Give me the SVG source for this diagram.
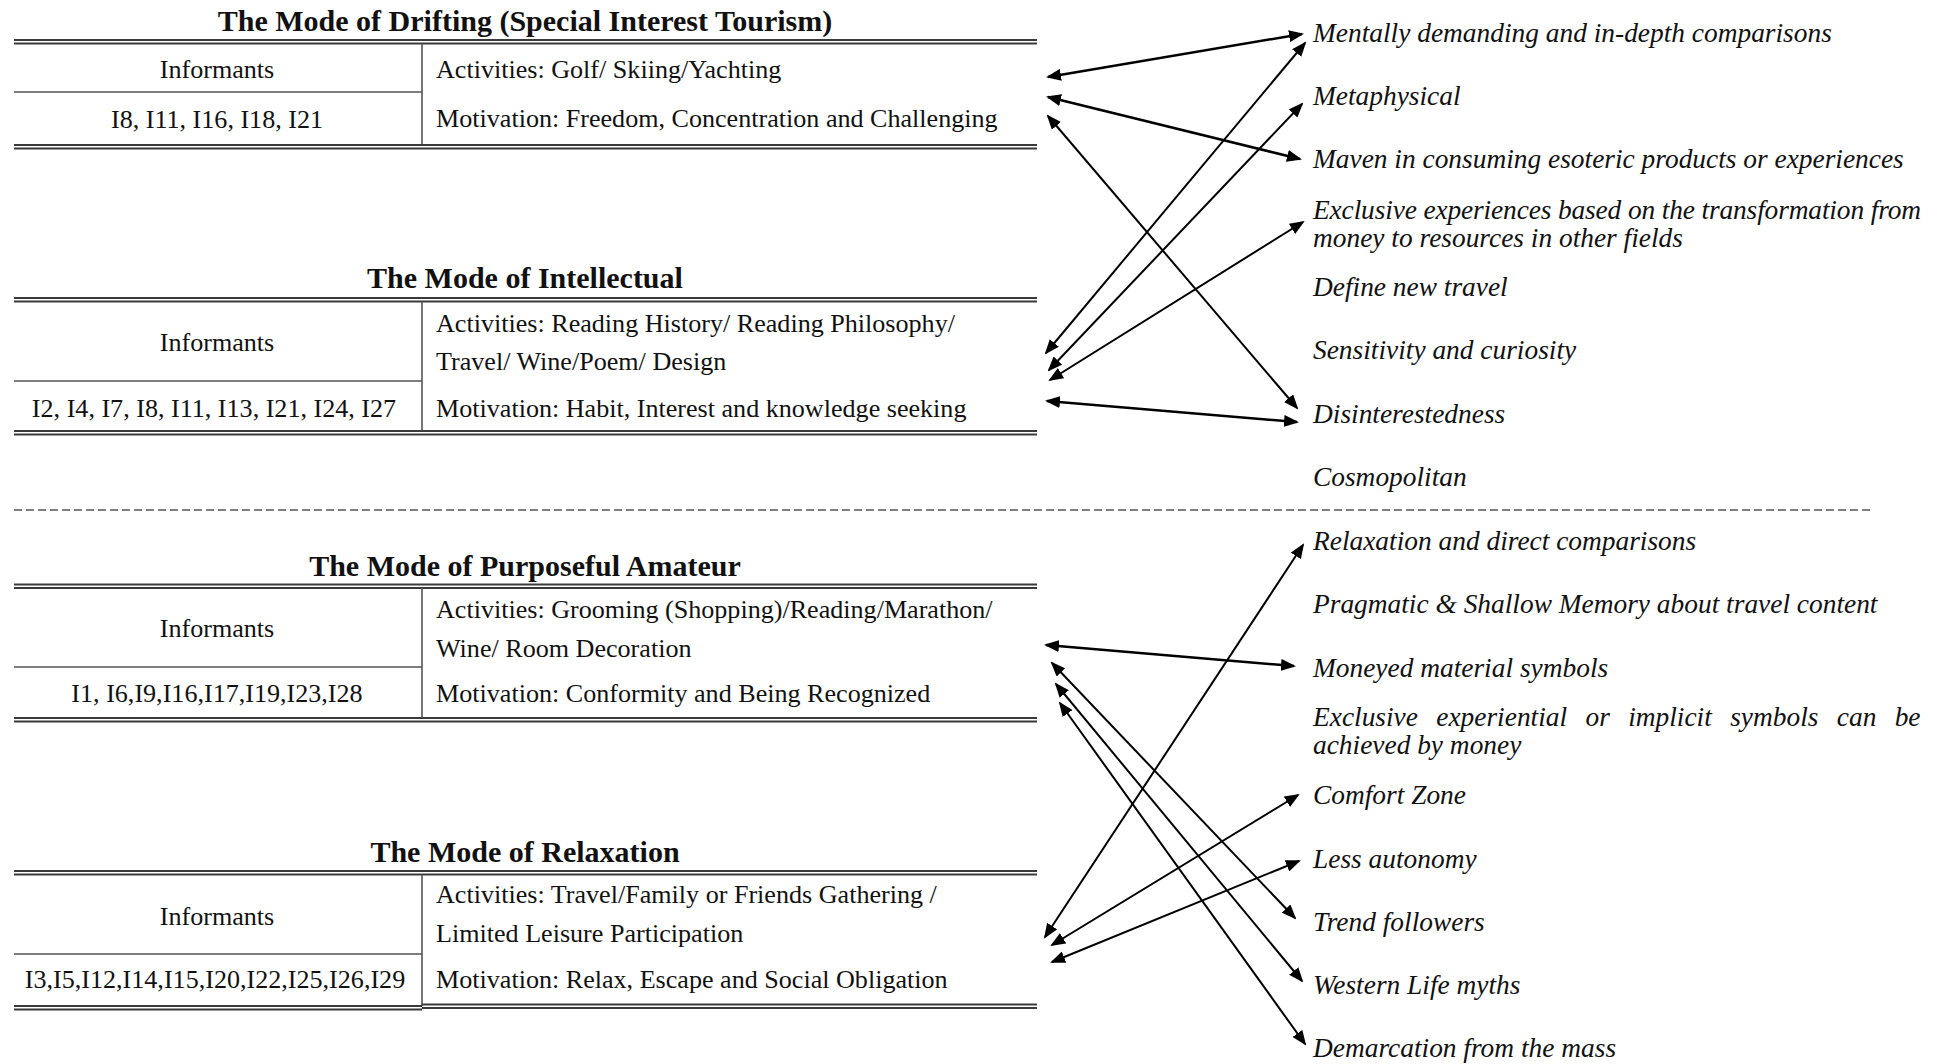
<svg xmlns="http://www.w3.org/2000/svg" width="1946" height="1064" viewBox="0 0 1946 1064">
  <style>
    .title { font-family: "Liberation Serif", "Times New Roman", serif; font-weight: bold; font-size: 30px; fill: #111; text-anchor: middle; }
    .cell { font-family: "Liberation Serif", "Times New Roman", serif; font-size: 26.1px; fill: #111; }
    .mid { text-anchor: middle; }
    .rule { stroke: #3a3a3a; stroke-width: 2; fill: none; }
    .split { stroke: #555; stroke-width: 1.6; fill: none; }
    .trait { font-family: "Liberation Serif", "Times New Roman", serif; font-style: italic; font-size: 27.4px; fill: #111; }
    .link { stroke: #000; stroke-width: 2; fill: none; marker-start: url(#head); marker-end: url(#head); }
    .link.bold { stroke-width: 2.5; }
    .divider { stroke: #555; stroke-width: 1.5; stroke-dasharray: 8 4; fill: none; }
  </style>
  <defs>
    <marker id="head" viewBox="0 0 15 12" refX="13" refY="6" markerWidth="15" markerHeight="12" markerUnits="userSpaceOnUse" orient="auto-start-reverse">
      <path d="M0,0 L15,6 L0,12 Z" fill="#000"/>
    </marker>
  </defs>
  <rect width="1946" height="1064" fill="#fff"/>

  <!-- Mode tables -->
  <g id="mode-drifting">
    <text class="title" x="525" y="31">The Mode of Drifting (Special Interest Tourism)</text>
    <line class="rule" x1="14" y1="40" x2="1037" y2="40"/>
    <line class="rule" x1="14" y1="43.5" x2="1037" y2="43.5"/>
    <line class="split" x1="422" y1="43.5" x2="422" y2="145"/>
    <line class="split" x1="14" y1="92" x2="422" y2="92"/>
    <line class="rule" x1="14" y1="145" x2="1037" y2="145"/>
    <line class="rule" x1="14" y1="148.5" x2="1037" y2="148.5"/>
    <text class="cell mid" x="217" y="78">Informants</text>
    <text class="cell mid" x="217" y="128">I8, I11, I16, I18, I21</text>
    <text class="cell" x="436" y="78">Activities: Golf/ Skiing/Yachting</text>
    <text class="cell" x="436" y="127">Motivation: Freedom, Concentration and Challenging</text>
  </g>

  <g id="mode-intellectual">
    <text class="title" x="525" y="288">The Mode of Intellectual</text>
    <line class="rule" x1="14" y1="298" x2="1037" y2="298"/>
    <line class="rule" x1="14" y1="301.5" x2="1037" y2="301.5"/>
    <line class="split" x1="422" y1="301.5" x2="422" y2="431"/>
    <line class="split" x1="14" y1="381" x2="422" y2="381"/>
    <line class="rule" x1="14" y1="431" x2="1037" y2="431"/>
    <line class="rule" x1="14" y1="434.5" x2="1037" y2="434.5"/>
    <text class="cell mid" x="217" y="351">Informants</text>
    <text class="cell mid" x="214" y="417">I2, I4, I7, I8, I11, I13, I21, I24, I27</text>
    <text class="cell" x="436" y="332">Activities: Reading History/ Reading Philosophy/</text>
    <text class="cell" x="436" y="370">Travel/ Wine/Poem/ Design</text>
    <text class="cell" x="436" y="417">Motivation: Habit, Interest and knowledge seeking</text>
  </g>

  <g id="mode-amateur">
    <text class="title" x="525" y="576">The Mode of Purposeful Amateur</text>
    <line class="rule" x1="14" y1="584.5" x2="1037" y2="584.5"/>
    <line class="rule" x1="14" y1="588" x2="1037" y2="588"/>
    <line class="split" x1="422" y1="588" x2="422" y2="718"/>
    <line class="split" x1="14" y1="667" x2="422" y2="667"/>
    <line class="rule" x1="14" y1="718" x2="1037" y2="718"/>
    <line class="rule" x1="14" y1="721.5" x2="1037" y2="721.5"/>
    <text class="cell mid" x="217" y="637">Informants</text>
    <text class="cell mid" x="217" y="702">I1, I6,I9,I16,I17,I19,I23,I28</text>
    <text class="cell" x="436" y="618">Activities: Grooming (Shopping)/Reading/Marathon/</text>
    <text class="cell" x="436" y="657">Wine/ Room Decoration</text>
    <text class="cell" x="436" y="702">Motivation: Conformity and Being Recognized</text>
  </g>

  <g id="mode-relaxation">
    <text class="title" x="525" y="862">The Mode of Relaxation</text>
    <line class="rule" x1="14" y1="871" x2="1037" y2="871"/>
    <line class="rule" x1="14" y1="874.5" x2="1037" y2="874.5"/>
    <line class="split" x1="422" y1="874.5" x2="422" y2="1006"/>
    <line class="split" x1="14" y1="954" x2="422" y2="954"/>
    <line class="rule" x1="14" y1="1006" x2="422" y2="1006"/>
    <line class="rule" x1="14" y1="1009.5" x2="422" y2="1009.5"/>
    <line class="rule" x1="422" y1="1004.5" x2="1037" y2="1004.5"/>
    <line class="rule" x1="422" y1="1008" x2="1037" y2="1008"/>
    <text class="cell mid" x="217" y="925">Informants</text>
    <text class="cell mid" x="215" y="988">I3,I5,I12,I14,I15,I20,I22,I25,I26,I29</text>
    <text class="cell" x="436" y="903">Activities: Travel/Family or Friends Gathering /</text>
    <text class="cell" x="436" y="942">Limited Leisure Participation</text>
    <text class="cell" x="436" y="988">Motivation: Relax, Escape and Social Obligation</text>
  </g>

  <!-- Boundary between the two groups of modes -->
  <line class="divider" x1="14" y1="510" x2="1871" y2="510"/>

  <!-- Traits -->
  <g id="trait-mentally"><text class="trait" x="1313" y="42">Mentally demanding and in-depth comparisons</text></g>
  <g id="trait-metaphysical"><text class="trait" x="1313" y="105">Metaphysical</text></g>
  <g id="trait-maven"><text class="trait" x="1313" y="168">Maven in consuming esoteric products or experiences</text></g>
  <g id="trait-exclusive-experiences">
    <text class="trait" x="1313" y="219" textLength="608" lengthAdjust="spacing">Exclusive experiences based on the transformation from</text>
    <text class="trait" x="1313" y="246.5">money to resources in other fields</text>
  </g>
  <g id="trait-define"><text class="trait" x="1313" y="296">Define new travel</text></g>
  <g id="trait-sensitivity"><text class="trait" x="1313" y="359">Sensitivity and curiosity</text></g>
  <g id="trait-disinterestedness"><text class="trait" x="1313" y="423">Disinterestedness</text></g>
  <g id="trait-cosmopolitan"><text class="trait" x="1313" y="486">Cosmopolitan</text></g>
  <g id="trait-relaxation"><text class="trait" x="1313" y="550">Relaxation and direct comparisons</text></g>
  <g id="trait-pragmatic"><text class="trait" x="1313" y="613">Pragmatic &amp; Shallow Memory about travel content</text></g>
  <g id="trait-moneyed"><text class="trait" x="1313" y="677">Moneyed material symbols</text></g>
  <g id="trait-exclusive-symbols">
    <text class="trait" x="1313" y="726" word-spacing="11.5">Exclusive experiential or implicit symbols can be</text>
    <text class="trait" x="1313" y="753.5">achieved by money</text>
  </g>
  <g id="trait-comfort"><text class="trait" x="1313" y="804">Comfort Zone</text></g>
  <g id="trait-autonomy"><text class="trait" x="1313" y="868">Less autonomy</text></g>
  <g id="trait-trend"><text class="trait" x="1313" y="931">Trend followers</text></g>
  <g id="trait-western"><text class="trait" x="1313" y="994">Western Life myths</text></g>
  <g id="trait-demarcation"><text class="trait" x="1313" y="1057">Demarcation from the mass</text></g>

  <!-- Connectors -->
  <g id="connectors">
    <line class="link bold" x1="1048" y1="77" x2="1302" y2="34"/>
    <line class="link bold" x1="1048" y1="97" x2="1300" y2="159"/>
    <line class="link" x1="1048" y1="116" x2="1297" y2="408"/>
    <line class="link" x1="1046" y1="353" x2="1305" y2="43"/>
    <line class="link" x1="1049" y1="370" x2="1302" y2="104"/>
    <line class="link" x1="1050" y1="380" x2="1303" y2="222"/>
    <line class="link bold" x1="1047" y1="401" x2="1297" y2="422"/>
    <line class="link bold" x1="1046" y1="645" x2="1294" y2="666"/>
    <line class="link" x1="1052" y1="663" x2="1295" y2="918"/>
    <line class="link" x1="1056" y1="684" x2="1302" y2="981"/>
    <line class="link" x1="1060" y1="703" x2="1305" y2="1044"/>
    <line class="link" x1="1045" y1="937" x2="1303" y2="545"/>
    <line class="link" x1="1052" y1="945" x2="1298" y2="795"/>
    <line class="link" x1="1052" y1="962" x2="1299" y2="861"/>
  </g>
</svg>
